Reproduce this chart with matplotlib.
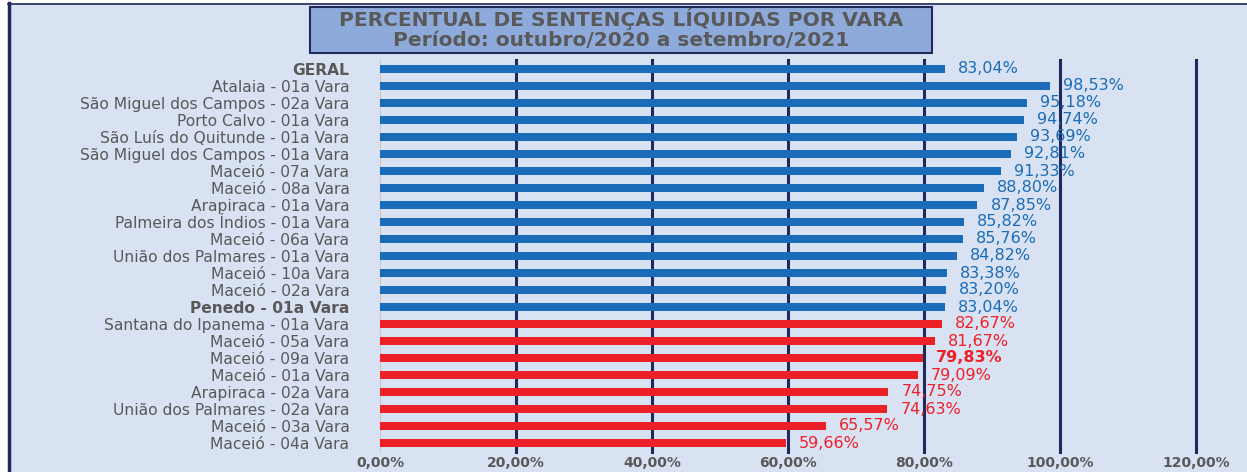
import matplotlib.pyplot as plt
from matplotlib.patches import Rectangle
from matplotlib.lines import Line2D

# Dados do gráfico (de cima para baixo)
varas = [
    "GERAL",
    "Atalaia - 01a Vara",
    "São Miguel dos Campos - 02a Vara",
    "Porto Calvo - 01a Vara",
    "São Luís do Quitunde - 01a Vara",
    "São Miguel dos Campos - 01a Vara",
    "Maceió - 07a Vara",
    "Maceió - 08a Vara",
    "Arapiraca - 01a Vara",
    "Palmeira dos Índios - 01a Vara",
    "Maceió - 06a Vara",
    "União dos Palmares - 01a Vara",
    "Maceió - 10a Vara",
    "Maceió - 02a Vara",
    "Penedo - 01a Vara",
    "Santana do Ipanema - 01a Vara",
    "Maceió - 05a Vara",
    "Maceió - 09a Vara",
    "Maceió - 01a Vara",
    "Arapiraca - 02a Vara",
    "União dos Palmares - 02a Vara",
    "Maceió - 03a Vara",
    "Maceió - 04a Vara",
]
percentuais = [83.04, 98.53, 95.18, 94.74, 93.69, 92.81, 91.33, 88.80, 87.85,
               85.82, 85.76, 84.82, 83.38, 83.20, 83.04, 82.67, 81.67, 79.83,
               79.09, 74.75, 74.63, 65.57, 59.66]
ticks_x = [0, 20, 40, 60, 80, 100, 120]

azul = '#1b6cb8'
vermelho = '#ee2027'
fundo = '#d9e2f3'
marinho = '#1f2a5c'
cinza = '#595959'

geral = percentuais[0]
cores = [azul if v >= geral else vermelho for v in percentuais]

fig = plt.figure(figsize=(12.47, 4.72), dpi=100)
fig.patch.set_facecolor('white')

# moldura do gráfico
fig.patches.append(Rectangle((8 / 1247, 0), 1, 1 - 3 / 472, transform=fig.transFigure,
                             facecolor=fundo, edgecolor='none', zorder=-5))
fig.lines.append(Line2D([8.5 / 1247, 8.5 / 1247], [0, 1 - 3 / 472], transform=fig.transFigure,
                        color=marinho, lw=2.5, zorder=-4))
fig.lines.append(Line2D([8 / 1247, 1], [1 - 3.5 / 472, 1 - 3.5 / 472], transform=fig.transFigure,
                        color=marinho, lw=1.2, zorder=-4))

ax = fig.add_axes([380 / 1247, 1 - 451.5 / 472, (1196 - 380) / 1247, (451.5 - 60.5) / 472])
ax.set_facecolor('none')

y = list(range(len(varas)))
ax.barh(y, percentuais, height=0.42, color=cores, zorder=3)

for i, v in enumerate(percentuais):
    txt = f"{v:.2f}%".replace('.', ',')
    negrito = (varas[i] == "Maceió - 09a Vara")
    ax.annotate(txt, (v, i), xytext=(13, 0), textcoords='offset pixels',
                va='center', ha='left', color=cores[i],
                fontsize=11.5,
                fontweight='bold' if negrito else 'normal', zorder=4)

ax.set_xlim(0, 120)
ax.set_ylim(len(varas) - 0.5, -0.5)
ax.set_xticks(ticks_x)
ax.set_xticklabels([f"{t:.2f}%".replace('.', ',') for t in ticks_x],
                   color=cinza, fontsize=10, fontweight='bold')
ax.set_yticks(y)
ax.set_yticklabels(varas, color=cinza, fontsize=11.2)
for lab in ax.get_yticklabels():
    if lab.get_text() in ("GERAL", "Penedo - 01a Vara"):
        lab.set_fontweight('bold')
ax.tick_params(axis='y', length=0, pad=22)
ax.tick_params(axis='x', length=0, pad=3)

for t in ticks_x[1:]:
    ax.axvline(t, color=marinho, lw=2.2, zorder=2, clip_on=False)
for s in ['top', 'right', 'bottom']:
    ax.spines[s].set_visible(False)
ax.spines['left'].set_color('#c8c8c8')
ax.spines['left'].set_linewidth(0.8)

# caixa do título
fig.patches.append(Rectangle((310 / 1247, 1 - 53 / 472), 622 / 1247, 46 / 472,
                             transform=fig.transFigure, facecolor='#8eaadb',
                             edgecolor=marinho, lw=1.5, zorder=1))
fig.text(621 / 1247, 1 - 19 / 472, "PERCENTUAL DE SENTENÇAS LÍQUIDAS POR VARA",
         ha='center', va='center', fontsize=14.5, fontweight='bold', color=cinza, zorder=2)
fig.text(621 / 1247, 1 - 40 / 472, "Período: outubro/2020 a setembro/2021",
         ha='center', va='center', fontsize=14.5, fontweight='bold', color=cinza, zorder=2)

fig.savefig('out.png', dpi=100, facecolor=fig.get_facecolor())
